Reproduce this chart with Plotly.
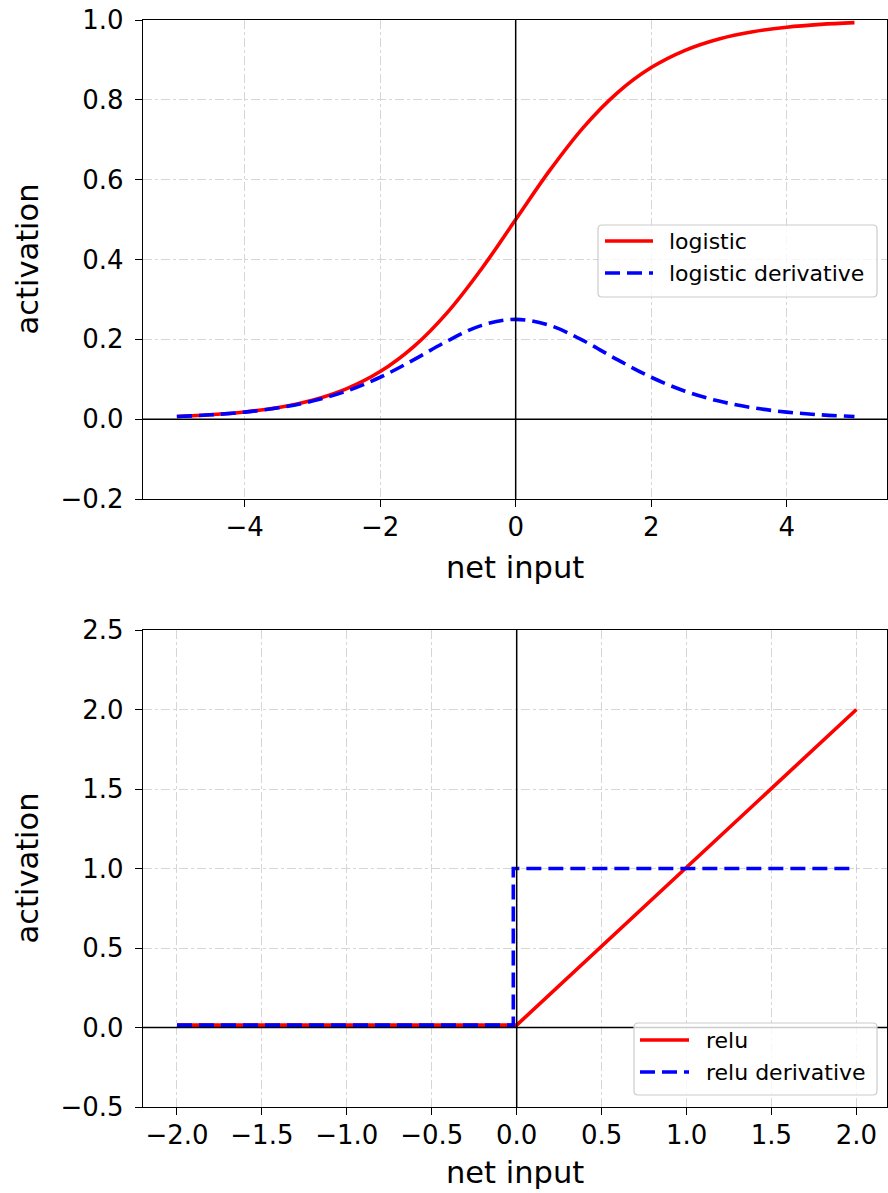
import plotly.graph_objects as go

# ---- data: logistic activation and its derivative ----
net_input_logistic = [-5.0, -4.5, -4.0, -3.5, -3.0, -2.5, -2.0, -1.5, -1.0, -0.5, 0.0,
                      0.5, 1.0, 1.5, 2.0, 2.5, 3.0, 3.5, 4.0, 4.5, 5.0]
logistic = [0.0067, 0.0110, 0.0180, 0.0293, 0.0474, 0.0759, 0.1192, 0.1824, 0.2689, 0.3775, 0.5000,
            0.6225, 0.7311, 0.8176, 0.8808, 0.9241, 0.9526, 0.9707, 0.9820, 0.9890, 0.9933]
logistic_derivative = [0.0066, 0.0109, 0.0177, 0.0285, 0.0452, 0.0701, 0.1050, 0.1491, 0.1966, 0.2350, 0.2500,
                       0.2350, 0.1966, 0.1491, 0.1050, 0.0701, 0.0452, 0.0285, 0.0177, 0.0109, 0.0066]

# ---- data: relu activation and its derivative ----
net_input_relu = [-2.0, 0.0, 2.0]
relu = [0.015, 0.015, 2.0]
net_input_relu_deriv = [-2.0, -0.02, -0.02, 2.0]
relu_derivative = [0.015, 0.015, 1.0, 1.0]

# ---- tick labels ----
top_xticks = [-4, -2, 0, 2, 4]
top_xtick_text = ["\u22124", "\u22122", "0", "2", "4"]
top_yticks = [-0.2, 0.0, 0.2, 0.4, 0.6, 0.8, 1.0]
top_ytick_text = ["\u22120.2", "0.0", "0.2", "0.4", "0.6", "0.8", "1.0"]
bot_xticks = [-2.0, -1.5, -1.0, -0.5, 0.0, 0.5, 1.0, 1.5, 2.0]
bot_xtick_text = ["\u22122.0", "\u22121.5", "\u22121.0", "\u22120.5", "0.0", "0.5", "1.0", "1.5", "2.0"]
bot_yticks = [-0.5, 0.0, 0.5, 1.0, 1.5, 2.0, 2.5]
bot_ytick_text = ["\u22120.5", "0.0", "0.5", "1.0", "1.5", "2.0", "2.5"]

W, H = 888, 1193
FONT = "DejaVu Sans"
RED = "#ff0000"
BLUE = "#0000ff"
LW = 3.6
DASH = "15px,7px"


def px(x):
    return x / W


def py(y):
    return 1 - y / H


fig = go.Figure()

fig.add_trace(go.Scatter(x=net_input_logistic, y=logistic, mode="lines", name="logistic",
                         line=dict(color=RED, width=LW, shape="spline"),
                         xaxis="x", yaxis="y", showlegend=False))
fig.add_trace(go.Scatter(x=net_input_logistic, y=logistic_derivative, mode="lines",
                         name="logistic derivative",
                         line=dict(color=BLUE, width=LW, dash=DASH, shape="spline"),
                         xaxis="x", yaxis="y", showlegend=False))
fig.add_trace(go.Scatter(x=net_input_relu, y=relu, mode="lines", name="relu",
                         line=dict(color=RED, width=LW),
                         xaxis="x2", yaxis="y2", showlegend=False))
fig.add_trace(go.Scatter(x=net_input_relu_deriv, y=relu_derivative, mode="lines",
                         name="relu derivative",
                         line=dict(color=BLUE, width=LW, dash=DASH),
                         xaxis="x2", yaxis="y2", showlegend=False))

axis_common = dict(
    showline=True, linecolor="black", linewidth=1.3, mirror=True,
    ticks="outside", ticklen=7, tickwidth=1.3, tickcolor="black",
    showgrid=True, gridcolor="#d6d6d6", gridwidth=1, griddash="dashdot",
    zeroline=False, automargin=False,
    tickfont=dict(family=FONT, size=26, color="black"),
)

x_domain = [px(143), px(887)]
top_domain = [py(499), py(20)]
bot_domain = [py(1107), py(630)]

fig.update_layout(
    width=W, height=H,
    margin=dict(l=0, r=0, t=0, b=0, autoexpand=False),
    paper_bgcolor="white", plot_bgcolor="white",
    showlegend=False,
    xaxis=dict(axis_common, domain=x_domain, range=[-5.5, 5.48], anchor="y",
               tickmode="array", tickvals=top_xticks, ticktext=top_xtick_text,
               ticklabelstandoff=-2),
    yaxis=dict(axis_common, domain=top_domain, range=[-0.2, 1.0], anchor="x",
               tickmode="array", tickvals=top_yticks, ticktext=top_ytick_text,
               ticklabelstandoff=6),
    xaxis2=dict(axis_common, domain=x_domain, range=[-2.2, 2.18], anchor="y2",
                tickmode="array", tickvals=bot_xticks, ticktext=bot_xtick_text,
                ticklabelstandoff=-2),
    yaxis2=dict(axis_common, domain=bot_domain, range=[-0.5, 2.5], anchor="x2",
                tickmode="array", tickvals=bot_yticks, ticktext=bot_ytick_text,
                ticklabelstandoff=6),
)

shapes = []
annotations = []

# zero reference lines through the origin of each panel
for xa, ya in (("x", "y"), ("x2", "y2")):
    shapes.append(dict(type="line", xref=f"{xa} domain", yref=ya, x0=0, x1=1, y0=0, y1=0,
                       line=dict(color="black", width=1.5), layer="above"))
    shapes.append(dict(type="line", xref=xa, yref=f"{ya} domain", x0=0, x1=0, y0=0, y1=1,
                       line=dict(color="black", width=1.5), layer="above"))


def rounded_box(x0, y0, x1, y1, r=4):
    # rounded rectangle path in paper coordinates from pixel corners
    rx, ry = r / W, r / H
    X0, X1 = px(x0), px(x1)
    Y0, Y1 = py(y0), py(y1)  # Y0 top, Y1 bottom
    return (f"M {X0 + rx},{Y0} L {X1 - rx},{Y0} Q {X1},{Y0} {X1},{Y0 - ry} "
            f"L {X1},{Y1 + ry} Q {X1},{Y1} {X1 - rx},{Y1} "
            f"L {X0 + rx},{Y1} Q {X0},{Y1} {X0},{Y1 + ry} "
            f"L {X0},{Y0 - ry} Q {X0},{Y0} {X0 + rx},{Y0} Z")


def legend(box, rows, line_x0, line_x1, text_x):
    shapes.append(dict(type="path", xref="paper", yref="paper", path=rounded_box(*box),
                       fillcolor="rgba(255,255,255,0.8)",
                       line=dict(color="#cccccc", width=1.2), layer="above"))
    for (label, color, dash, y) in rows:
        shapes.append(dict(type="line", xref="paper", yref="paper",
                           x0=px(line_x0), x1=px(line_x1), y0=py(y), y1=py(y),
                           line=dict(color=color, width=LW, dash=dash), layer="above"))
        annotations.append(dict(xref="paper", yref="paper", x=px(text_x), y=py(y),
                                xanchor="left", yanchor="middle", showarrow=False,
                                text=label, font=dict(family=FONT, size=22, color="black")))


legend((598, 225, 877, 297),
       [("logistic", RED, "solid", 241), ("logistic derivative", BLUE, DASH, 273)],
       605, 653, 667)
legend((634, 1023, 877, 1095),
       [("relu", RED, "solid", 1040), ("relu derivative", BLUE, DASH, 1072)],
       640, 689, 704)

# axis titles
for (x, y, text, angle) in ((515, 567, "net input", 0), (515, 1172, "net input", 0),
                            (27, 259.5, "activation", -90), (27, 868.5, "activation", -90)):
    annotations.append(dict(xref="paper", yref="paper", x=px(x), y=py(y),
                            xanchor="center", yanchor="middle", showarrow=False,
                            text=text, textangle=angle,
                            font=dict(family=FONT, size=30.5, color="black")))

fig.update_layout(shapes=shapes, annotations=annotations)

fig.write_html("out.html")
